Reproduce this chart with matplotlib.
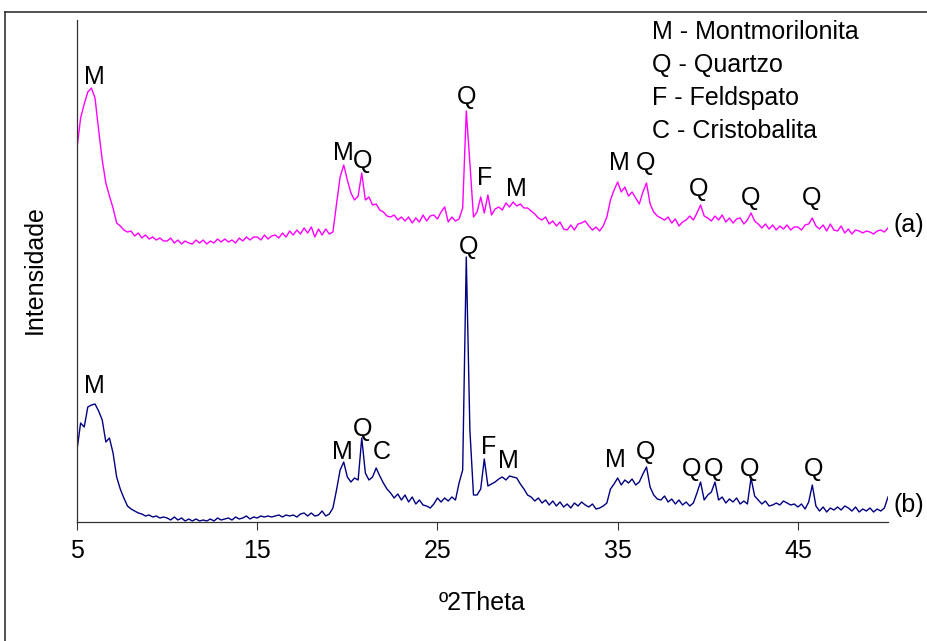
import numpy as np
import matplotlib
matplotlib.use("Agg")
import matplotlib.pyplot as plt
from matplotlib.lines import Line2D

plt.rcParams['font.family'] = ['Liberation Sans', 'DejaVu Sans']

# 2theta scan positions (step 0.2)
theta = np.arange(5, 50.001, 0.2)

# (a) magenta pattern
int_a = [
    # 5.0 - 9.8
    374, 404, 418, 430, 434, 424, 392, 362, 339, 326, 314, 299, 296, 292, 290,
    291, 286, 289, 284, 287, 283, 285, 282, 284, 281,
    # 10.0 - 14.8
    281, 284, 279, 282, 278, 281, 279, 278, 282, 279, 282, 278, 281, 279, 283,
    280, 283, 280, 282, 279, 284, 281, 285, 282, 285,
    # 15.0 - 19.8
    285, 282, 287, 283, 286, 287, 284, 289, 285, 291, 287, 292, 288, 294, 289,
    295, 285, 293, 287, 293, 288, 290, 318, 345, 357,
    # 20.0 - 24.8
    342, 329, 322, 326, 349, 322, 325, 317, 318, 312, 310, 306, 305, 307, 302,
    305, 301, 305, 299, 304, 300, 307, 301, 306, 307,
    # 25.0 - 29.8
    303, 310, 315, 300, 305, 301, 303, 314, 411, 359, 305, 310, 325, 309, 327,
    307, 313, 315, 312, 319, 315, 320, 316, 318, 314,
    # 30.0 - 34.8
    314, 311, 308, 304, 302, 305, 298, 301, 296, 300, 293, 292, 297, 292, 298,
    299, 301, 296, 292, 295, 291, 296, 305, 322, 332,
    # 35.0 - 39.8
    340, 330, 335, 326, 330, 324, 318, 330, 339, 318, 310, 306, 304, 302, 305,
    299, 303, 296, 300, 302, 306, 302, 309, 317, 306,
    # 40.0 - 44.8
    304, 301, 306, 302, 307, 300, 304, 299, 303, 304, 298, 302, 309, 301, 298,
    294, 298, 293, 297, 292, 296, 293, 297, 292, 295,
    # 45.0 - 49.8
    295, 292, 297, 298, 304, 296, 293, 297, 291, 298, 292, 291, 296, 289, 293,
    288, 292, 291, 289, 291, 290, 288, 291, 292, 290,
    # 50.0
    294,
]

# (b) navy pattern
int_b = [
    # 5.0 - 9.8
    72, 99, 95, 115, 117, 118, 111, 102, 80, 84, 69, 45, 33, 24, 16,
    13, 11, 9, 8, 6, 7, 5, 6, 4, 5,
    # 10.0 - 14.8
    4, 2, 5, 2, 4, 1, 3, 1, 3, 1, 2, 1, 3, 1, 4,
    2, 3, 4, 2, 5, 3, 4, 6, 3, 5,
    # 15.0 - 19.8
    4, 6, 5, 6, 5, 6, 7, 5, 7, 6, 7, 5, 8, 9, 6,
    9, 6, 7, 11, 6, 8, 14, 32, 52, 60,
    # 20.0 - 24.8
    45, 40, 44, 42, 84, 49, 42, 45, 54, 46, 39, 33, 29, 24, 28,
    22, 27, 20, 25, 18, 22, 17, 16, 14, 18,
    # 25.0 - 29.8
    24, 20, 24, 21, 25, 22, 39, 52, 265, 92, 27, 27, 33, 63, 36,
    38, 40, 43, 45, 42, 46, 45, 44, 38, 33,
    # 30.0 - 34.8
    27, 25, 21, 24, 19, 22, 17, 21, 16, 20, 15, 18, 14, 19, 16,
    20, 17, 15, 18, 13, 14, 16, 19, 33, 38,
    # 35.0 - 39.8
    44, 37, 42, 39, 43, 37, 40, 48, 55, 35, 27, 23, 22, 26, 20,
    23, 18, 22, 17, 20, 16, 19, 29, 40, 22,
    # 40.0 - 44.8
    27, 30, 40, 22, 25, 19, 23, 20, 24, 18, 21, 18, 44, 26, 22,
    18, 21, 16, 17, 19, 17, 21, 19, 17, 18,
    # 45.0 - 49.8
    15, 18, 13, 20, 37, 16, 11, 15, 10, 14, 12, 15, 12, 16, 14,
    11, 15, 10, 13, 11, 14, 10, 13, 11, 14,
    # 50.0
    25,
]

# peak labels: letter, 2theta, intensity
labels_a = [("M", 5.94, 445), ("M", 19.78, 369), ("Q", 20.83, 361),
            ("Q", 26.61, 425), ("F", 27.61, 344), ("M", 29.39, 333),
            ("M", 35.11, 359), ("Q", 36.56, 359), ("Q", 39.5, 333),
            ("Q", 42.39, 324), ("Q", 45.78, 324)]
labels_b = [("M", 5.94, 136), ("M", 19.72, 70), ("Q", 20.83, 93),
            ("C", 21.89, 70), ("Q", 26.72, 275), ("F", 27.83, 75),
            ("M", 28.94, 61), ("M", 34.89, 62), ("Q", 36.56, 70),
            ("Q", 39.11, 53), ("Q", 40.33, 53), ("Q", 42.33, 53),
            ("Q", 45.89, 53)]

legend_lines = ["M - Montmorilonita", "Q - Quartzo", "F - Feldspato",
                "C - Cristobalita"]

fs = 18

fig = plt.figure(figsize=(9.27, 6.41), dpi=100)
ax = fig.add_axes([77 / 927, 1 - 522 / 641, 811 / 927, 502 / 641])

ax.plot(theta, int_a, color="#FF00FF", lw=1.0)
ax.plot(theta, int_b, color="#000080", lw=1.0)

for letter, x, y in labels_a + labels_b:
    ax.text(x, y, letter, fontsize=fs, ha="center", va="center")

ax.text(50.33, 297, "(a)", fontsize=fs, ha="left", va="center", clip_on=False)
ax.text(50.33, 17, "(b)", fontsize=fs, ha="left", va="center", clip_on=False)

for i, s in enumerate(legend_lines):
    ax.text(0.709, 0.976 - i * 0.0655, s, fontsize=fs, ha="left",
            va="center", transform=ax.transAxes)

ax.set_xlim(5, 50)
ax.set_ylim(0, 502)
ax.set_xticks([5, 15, 25, 35, 45])
ax.set_yticks([])
ax.tick_params(axis="x", direction="out", length=6, width=0.8,
               colors="#333333", labelcolor="black", labelsize=fs, pad=6)
for side in ["top", "right"]:
    ax.spines[side].set_visible(False)
for side in ["left", "bottom"]:
    ax.spines[side].set_color("#333333")
    ax.spines[side].set_linewidth(0.9)

ax.set_xlabel("º2Theta", fontsize=fs, va="center")
ax.xaxis.set_label_coords(0.5, -0.161)
ax.set_ylabel("Intensidade", fontsize=fs, va="center")
ax.yaxis.set_label_coords(-0.052, 0.502)

# outer frame (only left and top edges visible)
fig.add_artist(Line2D([5 / 927, 5 / 927], [-0.01, 1 - 12 / 641],
                      transform=fig.transFigure, color="#333333", lw=1.2))
fig.add_artist(Line2D([5 / 927, 1.01], [1 - 12 / 641, 1 - 12 / 641],
                      transform=fig.transFigure, color="#333333", lw=1.2))

fig.savefig("out.png", dpi=100)
